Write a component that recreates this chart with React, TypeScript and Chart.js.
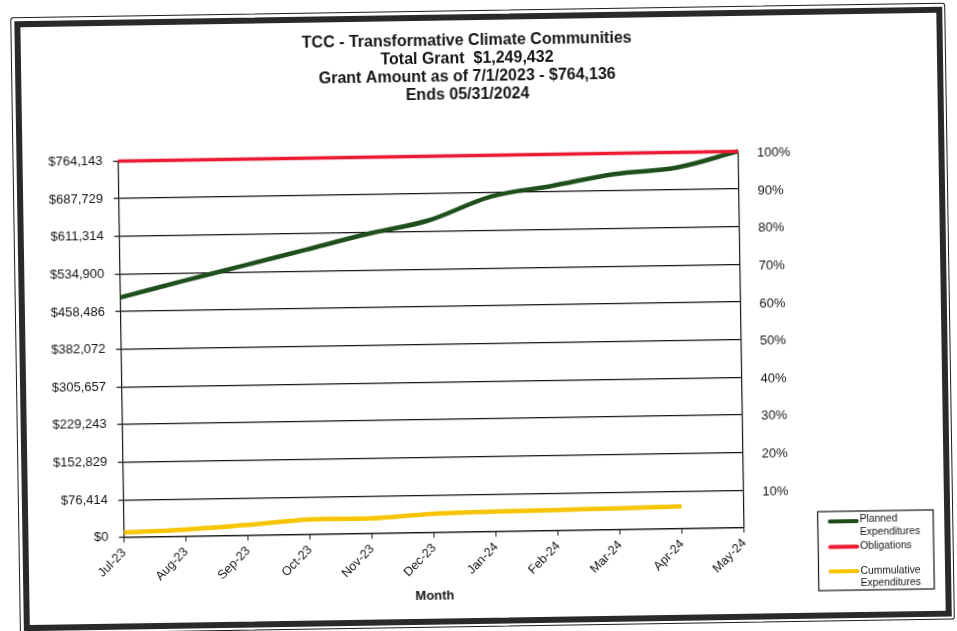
import React, { useEffect, useRef } from 'react';
import { Chart, registerables } from 'chart.js';

Chart.register(...registerables);

// ---------- data ----------
const titleLines = [
  'TCC - Transformative Climate Communities',
  'Total Grant  $1,249,432',
  'Grant Amount as of 7/1/2023 - $764,136',
  'Ends 05/31/2024',
];

const months = ['Jul-23', 'Aug-23', 'Sep-23', 'Oct-23', 'Nov-23', 'Dec-23', 'Jan-24', 'Feb-24', 'Mar-24', 'Apr-24', 'May-24'];

const plannedExpenditures = [487000, 518000, 548000, 578000, 608000, 634000, 680000, 700000, 722000, 733000, 764143];
const obligations = [764143, 764143, 764143, 764143, 764143, 764143, 764143, 764143, 764143, 764143, 764143];
const cumulativeExpenditures = [10000, 14000, 21300, 30600, 30800, 38200, 40500, 41900, 43200, 45200, null];

const seriesLabels = ['Planned Expenditures', 'Obligations', 'Cummulative Expenditures'];
const legendLines = [['Planned', 'Expenditures'], ['Obligations'], ['Cummulative', 'Expenditures']];
const seriesColors = ['#1d4e1b', '#ec1a33', '#f7c400'];

const dollarTickValues = [0, 76414, 152829, 229243, 305657, 382072, 458486, 534900, 611314, 687729, 764143];
const dollarTickLabels = ['$0', '$76,414', '$152,829', '$229,243', '$305,657', '$382,072', '$458,486', '$534,900', '$611,314', '$687,729', '$764,143'];

const percentTickValues = [10, 20, 30, 40, 50, 60, 70, 80, 90, 100];
const percentTickLabels = ['10%', '20%', '30%', '40%', '50%', '60%', '70%', '80%', '90%', '100%'];

const xAxisTitle = 'Month';

// ---------- styling ----------
const FONT = '"Liberation Sans", Arial, Helvetica, sans-serif';
const INK = '#151515';

const legendPlugin = {
  id: 'boxLegend',
  afterDraw(chart: any) {
    const ctx = chart.ctx;
    const bx = 814.5;
    const by = 517;
    const bw = 115.5;
    const bh = 79;
    ctx.save();
    ctx.strokeStyle = INK;
    ctx.lineWidth = 1.2;
    ctx.strokeRect(bx, by, bw, bh);
    ctx.font = `10.3px ${FONT}`;
    ctx.textBaseline = 'middle';
    ctx.textAlign = 'left';
    const rows = [
      { lineY: 10, textY: [8.5, 21.5] },
      { lineY: 35.5, textY: [35] },
      { lineY: 60, textY: [60.5, 72] },
    ];
    chart.data.datasets.forEach((ds: any, i: number) => {
      const r = rows[i];
      ctx.strokeStyle = ds.borderColor;
      ctx.lineWidth = 4;
      ctx.lineCap = 'round';
      ctx.beginPath();
      ctx.moveTo(bx + 12, by + r.lineY);
      ctx.lineTo(bx + 39, by + r.lineY);
      ctx.stroke();
      ctx.fillStyle = INK;
      legendLines[i].forEach((t, j) => {
        ctx.fillText(t, bx + 42, by + r.textY[j]);
      });
    });
    ctx.restore();
  },
};

export default function App() {
  const canvasRef = useRef<HTMLCanvasElement | null>(null);

  useEffect(() => {
    if (!canvasRef.current) return;
    const chart = new Chart(canvasRef.current, {
      type: 'line',
      data: {
        labels: months,
        datasets: [
          {
            label: seriesLabels[0],
            data: plannedExpenditures,
            borderColor: seriesColors[0],
            backgroundColor: seriesColors[0],
            borderWidth: 4.5,
            tension: 0.35,
            pointRadius: 0,
            clip: false,
            order: 2,
            yAxisID: 'y',
          },
          {
            label: seriesLabels[1],
            data: obligations,
            borderColor: seriesColors[1],
            backgroundColor: seriesColors[1],
            borderWidth: 3.5,
            tension: 0,
            pointRadius: 0,
            clip: false,
            order: 1,
            yAxisID: 'y',
          },
          {
            label: seriesLabels[2],
            data: cumulativeExpenditures,
            borderColor: seriesColors[2],
            backgroundColor: seriesColors[2],
            borderWidth: 4.5,
            tension: 0.35,
            pointRadius: 0,
            spanGaps: false,
            clip: false,
            order: 3,
            yAxisID: 'y',
          },
        ],
      },
      options: {
        responsive: false,
        animation: false,
        devicePixelRatio: 1,
        layout: { padding: { left: 0, right: 15, top: 0, bottom: 0 } },
        plugins: {
          legend: { display: false },
          tooltip: { enabled: false },
          title: {
            display: true,
            text: titleLines,
            color: INK,
            font: { family: FONT, size: 16, weight: 'bold', lineHeight: '18px' as any },
            padding: { top: 31.8, bottom: 51.6 },
          },
        },
        scales: {
          x: {
            type: 'category',
            offset: false,
            grid: {
              display: true,
              drawOnChartArea: false,
              drawTicks: true,
              tickLength: 5,
              color: INK,
              lineWidth: 1,
            },
            border: { display: true, color: INK, width: 1.2 },
            ticks: {
              color: INK,
              font: { family: FONT, size: 12.5 },
              minRotation: 45,
              maxRotation: 45,
              autoSkip: false,
              padding: 3,
            },
            title: {
              display: true,
              text: xAxisTitle,
              color: INK,
              font: { family: FONT, size: 13, weight: 'bold', lineHeight: '15px' as any },
              padding: { top: 0, bottom: 28.3 },
            },
            afterFit: (s: any) => {
              s.height = 99.2;
            },
          },
          y: {
            type: 'linear',
            position: 'left',
            min: 0,
            max: 764143,
            afterBuildTicks: (s: any) => {
              s.ticks = dollarTickValues.map((v) => ({ value: v }));
            },
            grid: {
              color: INK,
              lineWidth: 1.2,
              drawTicks: true,
              tickLength: 5,
            },
            border: { display: true, color: INK, width: 1.2 },
            ticks: {
              color: INK,
              font: { family: FONT, size: 13 },
              padding: 10.5,
              callback: (_v: any, i: number) => dollarTickLabels[i],
            },
            afterFit: (s: any) => {
              s.width = 120.5;
            },
          },
          y1: {
            type: 'linear',
            position: 'right',
            min: 0,
            max: 100,
            afterBuildTicks: (s: any) => {
              s.ticks = percentTickValues.map((v) => ({ value: v }));
            },
            grid: { display: false, drawTicks: false },
            border: { display: true, color: INK, width: 1.2 },
            ticks: {
              color: INK,
              font: { family: FONT, size: 13 },
              padding: 19,
              labelOffset: 2,
              callback: (_v: any, i: number) => percentTickLabels[i],
            },
            afterFit: (s: any) => {
              s.width = 201.4;
            },
          },
        },
      },
      plugins: [legendPlugin],
    } as any);
    return () => chart.destroy();
  }, []);

  return (
    <div style={{ position: 'fixed', left: 0, top: 0, width: 957, height: 631, background: '#fff', overflow: 'hidden' }}>
      <div style={{ position: 'absolute', left: 0, top: 0, width: 957, height: 631, transform: 'rotate(-0.9deg)' }}>
        <div
          style={{
            position: 'absolute',
            left: 15,
            top: 10,
            width: 935,
            height: 617,
            boxSizing: 'border-box',
            border: '1.5px solid #1e1e1e',
            borderRadius: 3,
          }}
        />
        <div
          style={{
            position: 'absolute',
            left: 18.5,
            top: 13.5,
            width: 928,
            height: 610,
            boxSizing: 'border-box',
            border: '6px solid #2a2a2a',
          }}
        />
        <canvas ref={canvasRef} width={957} height={631} style={{ position: 'absolute', left: 0, top: 0 }} />
      </div>
    </div>
  );
}
